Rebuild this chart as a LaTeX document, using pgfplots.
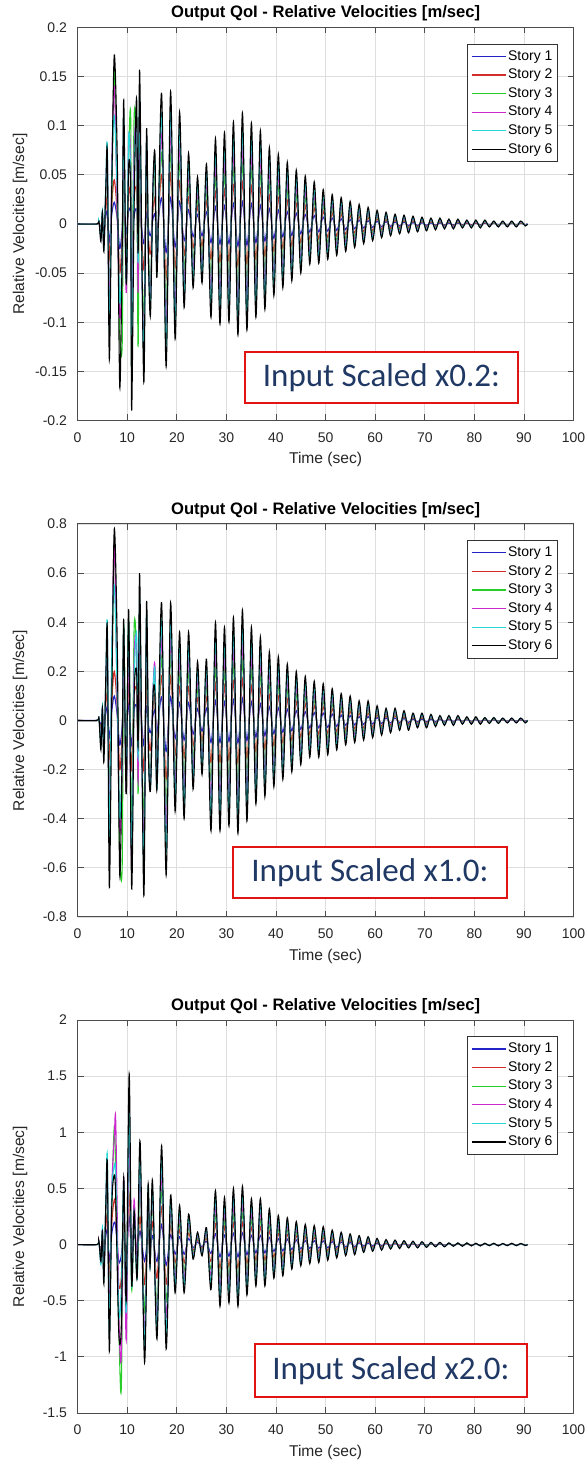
\documentclass[border=0pt]{standalone}
\usepackage{fontspec}
\setmainfont{Liberation Sans}
\newfontfamily\calibri{Carlito}
\usepackage{pgfplots}
\usepackage{pgfplotstable}
\pgfplotsset{compat=1.18}
\definecolor{sA}{RGB}{35,35,200}
\definecolor{sB}{RGB}{210,45,40}
\definecolor{sC}{RGB}{40,205,40}
\definecolor{sD}{RGB}{205,40,205}
\definecolor{sE}{RGB}{40,215,215}
\definecolor{sF}{RGB}{0,0,0}
\definecolor{boxred}{RGB}{225,20,20}
\definecolor{navy}{RGB}{32,56,100}

\pgfplotstableread{
t a b c d e f
0 0 0 0 0 0 0
3.9 0 0 0 0 0 0
4.3 0.001 0.002 0.002 0.003 0.003 0.003
4.7 -0.004 -0.006 -0.009 -0.012 -0.014 -0.018
5.0 0.003 0.005 0.010 0.012 0.014 0.012
5.3 -0.006 -0.012 -0.018 -0.022 -0.025 -0.028
5.7 0.008 0.015 0.030 0.035 0.042 0.040
6.0 0.012 0.025 0.045 0.060 0.078 0.071
6.4 -0.018 -0.035 -0.070 -0.090 -0.110 -0.138
6.9 0.010 0.020 0.030 0.060 0.050 0.040
7.4 0.022 0.045 0.160 0.140 0.110 0.172
8.0 0.005 0.010 0.020 0.010 0.030 0.066
8.5 -0.025 -0.050 -0.110 -0.095 -0.080 -0.166
9.0 -0.005 -0.010 -0.120 -0.040 -0.020 -0.020
9.3 0.020 0.045 0.090 0.100 0.110 0.126
9.8 -0.010 -0.030 -0.060 -0.070 -0.060 -0.060
10.3 0.015 0.035 0.070 0.085 0.090 0.060
10.7 0.010 0.020 0.110 0.060 0.040 0.030
10.9 -0.025 -0.050 -0.100 -0.120 -0.150 -0.190
11.4 0.008 0.025 0.110 0.075 0.050 0.020
11.9 0.015 0.035 0.070 0.090 0.110 0.128
12.2 -0.010 -0.030 -0.125 -0.070 -0.040 -0.030
12.5 0.018 0.040 0.080 0.110 0.130 0.157
13.0 -0.008 -0.020 -0.050 -0.060 -0.055 -0.050
13.4 -0.020 -0.045 -0.090 -0.110 -0.130 -0.158
13.9 0.012 0.030 0.060 0.075 0.085 0.096
14.3 -0.005 -0.015 -0.030 -0.040 -0.040 -0.040
14.7 -0.012 -0.030 -0.060 -0.070 -0.080 -0.092
15.2 0.005 0.015 0.030 0.040 0.035 0.040
15.6 0.010 0.025 0.050 0.060 0.065 0.071
16.0 -0.008 -0.020 -0.035 -0.045 -0.050 -0.054
16.94 0.0266 0.0505 0.0732 0.0931 0.113 0.133
17.85 -0.029 -0.0551 -0.0798 -0.1015 -0.1233 -0.145
18.75 0.027 0.0513 0.0743 0.0945 0.1148 0.135
19.66 -0.0234 -0.0445 -0.0644 -0.0819 -0.0995 -0.117
20.56 0.0228 0.0433 0.0627 0.0798 0.0969 0.114
21.47 -0.017 -0.0323 -0.0468 -0.0595 -0.0723 -0.085
22.37 0.0144 0.0274 0.0396 0.0504 0.0612 0.072
23.28 -0.013 -0.0247 -0.0358 -0.0455 -0.0553 -0.065
24.18 0.0096 0.0182 0.0264 0.0336 0.0408 0.048
25.09 -0.012 -0.0228 -0.033 -0.042 -0.051 -0.06
25.99 0.0122 0.0232 0.0336 0.0427 0.0519 0.061
26.90 -0.019 -0.0361 -0.0523 -0.0665 -0.0808 -0.095
27.80 0.0174 0.0331 0.0479 0.0609 0.074 0.087
28.71 -0.0204 -0.0388 -0.0561 -0.0714 -0.0867 -0.102
29.61 0.0186 0.0353 0.0512 0.0651 0.079 0.093
30.52 -0.02 -0.038 -0.055 -0.07 -0.085 -0.1
31.42 0.0208 0.0395 0.0572 0.0728 0.0884 0.104
32.33 -0.0226 -0.0429 -0.0622 -0.0791 -0.096 -0.113
33.23 0.0226 0.0429 0.0622 0.0791 0.096 0.113
34.14 -0.0216 -0.041 -0.0594 -0.0756 -0.0918 -0.108
35.04 0.0206 0.0391 0.0567 0.0721 0.0876 0.103
35.95 -0.019 -0.0361 -0.0523 -0.0665 -0.0808 -0.095
36.85 0.019 0.0361 0.0523 0.0665 0.0808 0.095
37.76 -0.0174 -0.0331 -0.0479 -0.0609 -0.074 -0.087
38.66 0.0156 0.0296 0.0429 0.0546 0.0663 0.078
39.57 -0.0146 -0.0277 -0.0402 -0.0511 -0.0621 -0.073
40.47 0.0142 0.027 0.039 0.0497 0.0604 0.071
41.38 -0.013 -0.0247 -0.0358 -0.0455 -0.0553 -0.065
42.28 0.0126 0.0239 0.0347 0.0441 0.0536 0.063
43.19 -0.0116 -0.022 -0.0319 -0.0406 -0.0493 -0.058
44.09 0.011 0.0209 0.0303 0.0385 0.0468 0.055
45.00 -0.01 -0.019 -0.0275 -0.035 -0.0425 -0.05
45.90 0.0098 0.0186 0.027 0.0343 0.0417 0.049
46.81 -0.0082 -0.0156 -0.0226 -0.0287 -0.0349 -0.041
47.71 0.0086 0.0163 0.0237 0.0301 0.0366 0.043
48.62 -0.008 -0.0152 -0.022 -0.028 -0.034 -0.04
49.52 0.007 0.0133 0.0193 0.0245 0.0298 0.035
50.43 -0.0072 -0.0137 -0.0198 -0.0252 -0.0306 -0.036
51.33 0.006 0.0114 0.0165 0.021 0.0255 0.03
52.24 -0.0064 -0.0122 -0.0176 -0.0224 -0.0272 -0.032
53.14 0.0054 0.0103 0.0149 0.0189 0.023 0.027
54.05 -0.0056 -0.0106 -0.0154 -0.0196 -0.0238 -0.028
54.95 0.0046 0.0087 0.0127 0.0161 0.0196 0.023
55.86 -0.0048 -0.0091 -0.0132 -0.0168 -0.0204 -0.024
56.76 0.004 0.0076 0.011 0.014 0.017 0.02
57.67 -0.004 -0.0076 -0.011 -0.014 -0.017 -0.02
58.57 0.0034 0.0065 0.0094 0.0119 0.0145 0.017
59.48 -0.0034 -0.0065 -0.0094 -0.0119 -0.0145 -0.017
60.38 0.0028 0.0053 0.0077 0.0098 0.0119 0.014
61.29 -0.0028 -0.0053 -0.0077 -0.0098 -0.0119 -0.014
62.19 0.0024 0.0046 0.0066 0.0084 0.0102 0.012
63.10 -0.0024 -0.0046 -0.0066 -0.0084 -0.0102 -0.012
64.00 0.002 0.0038 0.0055 0.007 0.0085 0.01
64.91 -0.002 -0.0038 -0.0055 -0.007 -0.0085 -0.01
65.81 0.0018 0.0034 0.005 0.0063 0.0077 0.009
66.72 -0.0018 -0.0034 -0.005 -0.0063 -0.0077 -0.009
67.62 0.0016 0.003 0.0044 0.0056 0.0068 0.008
68.53 -0.0016 -0.003 -0.0044 -0.0056 -0.0068 -0.008
69.43 0.0014 0.0027 0.0039 0.0049 0.006 0.007
70.34 -0.0014 -0.0027 -0.0039 -0.0049 -0.006 -0.007
71.24 0.0012 0.0023 0.0033 0.0042 0.0051 0.006
72.15 -0.0012 -0.0023 -0.0033 -0.0042 -0.0051 -0.006
73.05 0.0012 0.0023 0.0033 0.0042 0.0051 0.006
73.96 -0.001 -0.0019 -0.0028 -0.0035 -0.0043 -0.005
74.86 0.001 0.0019 0.0028 0.0035 0.0043 0.005
75.77 -0.001 -0.0019 -0.0028 -0.0035 -0.0043 -0.005
76.67 0.001 0.0019 0.0028 0.0035 0.0043 0.005
77.58 -0.0008 -0.0015 -0.0022 -0.0028 -0.0034 -0.004
78.48 0.0008 0.0015 0.0022 0.0028 0.0034 0.004
79.39 -0.0008 -0.0015 -0.0022 -0.0028 -0.0034 -0.004
80.29 0.0008 0.0015 0.0022 0.0028 0.0034 0.004
81.20 -0.0008 -0.0015 -0.0022 -0.0028 -0.0034 -0.004
82.10 0.0008 0.0015 0.0022 0.0028 0.0034 0.004
83.01 -0.0006 -0.0011 -0.0017 -0.0021 -0.0026 -0.003
83.91 0.0006 0.0011 0.0017 0.0021 0.0026 0.003
84.82 -0.0006 -0.0011 -0.0017 -0.0021 -0.0026 -0.003
85.72 0.0006 0.0011 0.0017 0.0021 0.0026 0.003
86.63 -0.0006 -0.0011 -0.0017 -0.0021 -0.0026 -0.003
87.53 0.0006 0.0011 0.0017 0.0021 0.0026 0.003
88.44 -0.0006 -0.0011 -0.0017 -0.0021 -0.0026 -0.003
89.34 0.0006 0.0011 0.0017 0.0021 0.0026 0.003
90.25 -0.0004 -0.0008 -0.0011 -0.0014 -0.0017 -0.002
90.7 0 0 0 0 0 0
}\tabA

\pgfplotstableread{
t a b c d e f
0 0 0 0 0 0 0
3.9 0 0 0 0 0 0
4.3 0.004 0.006 0.008 0.01 0.012 0.012
4.7 -0.02 -0.04 -0.06 -0.08 -0.1 -0.12
5.0 0.01 0.02 0.04 0.05 0.06 0.05
5.3 -0.03 -0.06 -0.09 -0.11 -0.13 -0.17
5.7 0.03 0.07 0.12 0.15 0.17 0.19
6.0 0.05 0.1 0.2 0.28 0.39 0.36
6.4 -0.07 -0.15 -0.3 -0.4 -0.5 -0.68
6.9 0.04 0.08 0.15 0.25 0.3 0.1
7.4 0.1 0.2 0.73 0.72 0.55 0.78
8.0 0.02 0.05 0.1 0.05 0.1 0.3
8.5 -0.1 -0.2 -0.55 -0.45 -0.4 -0.63
9.0 -0.02 -0.05 -0.58 -0.2 -0.1 -0.1
9.3 0.08 0.18 0.39 0.35 0.38 0.41
9.8 -0.04 -0.12 -0.3 -0.3 -0.25 -0.3
10.3 0.07 0.15 0.4 0.3 0.4 0.45
10.9 -0.1 -0.2 -0.45 -0.6 -0.55 -0.685
11.4 0.04 0.1 0.38 0.25 0.15 0.1
11.9 0.06 0.12 0.25 0.3 0.35 0.2
12.2 -0.05 -0.1 -0.3 -0.25 -0.15 -0.1
12.5 0.08 0.18 0.35 0.45 0.5 0.6
13.0 -0.03 -0.07 -0.15 -0.2 -0.2 -0.2
13.4 -0.1 -0.2 -0.4 -0.5 -0.6 -0.7
13.9 0.06 0.15 0.3 0.38 0.43 0.48
14.3 -0.02 -0.06 -0.12 -0.15 -0.15 -0.15
14.7 -0.05 -0.12 -0.22 -0.25 -0.27 -0.28
15.2 0.02 0.05 0.1 0.12 0.1 0.1
15.6 0.04 0.1 0.2 0.22 0.2 0.11
16.0 -0.05 -0.12 -0.22 -0.25 -0.28 -0.28
16.94 0.096 0.182 0.264 0.336 0.408 0.48
17.85 -0.126 -0.239 -0.347 -0.441 -0.536 -0.63
18.75 0.096 0.182 0.264 0.336 0.408 0.48
19.66 -0.074 -0.141 -0.204 -0.259 -0.315 -0.37
20.56 0.072 0.137 0.198 0.252 0.306 0.36
21.47 -0.08 -0.152 -0.22 -0.28 -0.34 -0.4
22.37 0.072 0.137 0.198 0.252 0.306 0.36
23.28 -0.056 -0.106 -0.154 -0.196 -0.238 -0.28
24.18 0.048 0.091 0.132 0.168 0.204 0.24
25.09 -0.044 -0.084 -0.121 -0.154 -0.187 -0.22
25.99 0.05 0.095 0.138 0.175 0.213 0.25
26.90 -0.09 -0.171 -0.248 -0.315 -0.383 -0.45
27.80 0.08 0.152 0.22 0.28 0.34 0.4
28.71 -0.09 -0.171 -0.248 -0.315 -0.383 -0.45
29.61 0.076 0.144 0.209 0.266 0.323 0.38
30.52 -0.086 -0.163 -0.237 -0.301 -0.366 -0.43
31.42 0.084 0.16 0.231 0.294 0.357 0.42
32.33 -0.092 -0.175 -0.253 -0.322 -0.391 -0.46
33.23 0.09 0.171 0.248 0.315 0.383 0.45
34.14 -0.082 -0.156 -0.226 -0.287 -0.349 -0.41
35.04 0.076 0.144 0.209 0.266 0.323 0.38
35.95 -0.068 -0.129 -0.187 -0.238 -0.289 -0.34
36.85 0.068 0.129 0.187 0.238 0.289 0.34
37.76 -0.062 -0.118 -0.171 -0.217 -0.264 -0.31
38.66 0.056 0.106 0.154 0.196 0.238 0.28
39.57 -0.054 -0.103 -0.149 -0.189 -0.23 -0.27
40.47 0.052 0.099 0.143 0.182 0.221 0.26
41.38 -0.048 -0.091 -0.132 -0.168 -0.204 -0.24
42.28 0.046 0.087 0.127 0.161 0.196 0.23
43.19 -0.042 -0.08 -0.116 -0.147 -0.179 -0.21
44.09 0.04 0.076 0.11 0.14 0.17 0.2
45.00 -0.036 -0.068 -0.099 -0.126 -0.153 -0.18
45.90 0.036 0.068 0.099 0.126 0.153 0.18
46.81 -0.03 -0.057 -0.083 -0.105 -0.128 -0.15
47.71 0.032 0.061 0.088 0.112 0.136 0.16
48.62 -0.03 -0.057 -0.083 -0.105 -0.128 -0.15
49.52 0.03 0.057 0.083 0.105 0.128 0.15
50.43 -0.028 -0.053 -0.077 -0.098 -0.119 -0.14
51.33 0.026 0.049 0.072 0.091 0.111 0.13
52.24 -0.024 -0.046 -0.066 -0.084 -0.102 -0.12
53.14 0.022 0.042 0.061 0.077 0.094 0.11
54.05 -0.02 -0.038 -0.055 -0.07 -0.085 -0.1
54.95 0.02 0.038 0.055 0.07 0.085 0.1
55.86 -0.018 -0.034 -0.05 -0.063 -0.077 -0.09
56.76 0.016 0.03 0.044 0.056 0.068 0.08
57.67 -0.016 -0.03 -0.044 -0.056 -0.068 -0.08
58.57 0.016 0.03 0.044 0.056 0.068 0.08
59.48 -0.014 -0.027 -0.039 -0.049 -0.06 -0.07
60.38 0.012 0.023 0.033 0.042 0.051 0.06
61.29 -0.012 -0.023 -0.033 -0.042 -0.051 -0.06
62.19 0.01 0.019 0.028 0.035 0.043 0.05
63.10 -0.01 -0.019 -0.028 -0.035 -0.043 -0.05
64.00 0.01 0.019 0.028 0.035 0.043 0.05
64.91 -0.008 -0.015 -0.022 -0.028 -0.034 -0.04
65.81 0.008 0.015 0.022 0.028 0.034 0.04
66.72 -0.008 -0.015 -0.022 -0.028 -0.034 -0.04
67.62 0.006 0.011 0.017 0.021 0.026 0.03
68.53 -0.006 -0.011 -0.017 -0.021 -0.026 -0.03
69.43 0.006 0.011 0.017 0.021 0.026 0.03
70.34 -0.006 -0.011 -0.017 -0.021 -0.026 -0.03
71.24 0.005 0.01 0.014 0.018 0.021 0.025
72.15 -0.005 -0.01 -0.014 -0.018 -0.021 -0.025
73.05 0.004 0.008 0.011 0.014 0.017 0.02
73.96 -0.004 -0.008 -0.011 -0.014 -0.017 -0.02
74.86 0.004 0.008 0.011 0.014 0.017 0.02
75.77 -0.004 -0.008 -0.011 -0.014 -0.017 -0.02
76.67 0.004 0.008 0.011 0.014 0.017 0.02
77.58 -0.003 -0.006 -0.008 -0.011 -0.013 -0.015
78.48 0.003 0.006 0.008 0.011 0.013 0.015
79.39 -0.003 -0.006 -0.008 -0.011 -0.013 -0.015
80.29 0.003 0.006 0.008 0.011 0.013 0.015
81.20 -0.003 -0.006 -0.008 -0.011 -0.013 -0.015
82.10 0.0024 0.0046 0.0066 0.0084 0.0102 0.012
83.01 -0.0024 -0.0046 -0.0066 -0.0084 -0.0102 -0.012
83.91 0.0024 0.0046 0.0066 0.0084 0.0102 0.012
84.82 -0.0024 -0.0046 -0.0066 -0.0084 -0.0102 -0.012
85.72 0.002 0.0038 0.0055 0.007 0.0085 0.01
86.63 -0.002 -0.0038 -0.0055 -0.007 -0.0085 -0.01
87.53 0.002 0.0038 0.0055 0.007 0.0085 0.01
88.44 -0.002 -0.0038 -0.0055 -0.007 -0.0085 -0.01
89.34 0.002 0.0038 0.0055 0.007 0.0085 0.01
90.25 -0.002 -0.0038 -0.0055 -0.007 -0.0085 -0.01
90.7 0 0 0 0 0 0
}\tabB

\pgfplotstableread{
t a b c d e f
0 0 0 0 0 0 0
3.9 0 0 0 0 0 0
4.3 0.01 0.02 0.02 0.03 0.03 0.03
4.7 -0.05 -0.08 -0.12 -0.15 -0.18 -0.15
5.0 0.03 0.06 0.1 0.13 0.15 0.12
5.3 -0.08 -0.15 -0.2 -0.25 -0.3 -0.35
5.7 0.08 0.15 0.3 0.35 0.4 0.38
6.0 0.12 0.25 0.45 0.55 0.78 0.71
6.4 -0.15 -0.3 -0.5 -0.65 -0.8 -0.95
6.9 0.1 0.2 0.4 0.5 0.45 0.35
7.4 0.2 0.4 1.05 0.95 0.7 0.62
7.7 0.15 0.3 0.6 1.08 0.6 0.4
8.3 -0.15 -0.35 -0.7 -0.6 -0.6 -0.78
8.8 -0.1 -0.3 -1.29 -1.0 -0.4 -0.74
9.3 0.1 0.3 0.5 0.6 0.55 0.6
9.8 -0.1 -0.2 -0.6 -0.85 -0.6 -0.5
10.4 0.25 0.45 0.9 1.0 1.2 1.52
10.9 -0.1 -0.25 -0.4 -0.3 -0.35 -0.35
11.4 0.1 0.2 0.3 0.4 0.3 0.3
12.0 -0.05 -0.15 -0.3 -0.2 -0.3 -0.3
12.6 0.12 0.25 0.5 0.6 0.75 0.92
13.5 -0.15 -0.35 -0.6 -0.8 -0.9 -1.05
14.2 0.1 0.2 0.35 0.45 0.5 0.53
14.6 -0.05 -0.1 -0.2 -0.2 -0.2 -0.2
15.1 0.08 0.2 0.4 0.45 0.5 0.57
16.0 -0.15 -0.3 -0.55 -0.65 -0.75 -0.84
16.94 0.176 0.334 0.484 0.616 0.748 0.88
17.85 -0.186 -0.353 -0.512 -0.651 -0.791 -0.93
18.75 0.088 0.167 0.242 0.308 0.374 0.44
19.66 -0.086 -0.163 -0.237 -0.301 -0.366 -0.43
20.56 0.07 0.133 0.193 0.245 0.298 0.35
21.47 -0.086 -0.163 -0.237 -0.301 -0.366 -0.43
22.37 0.054 0.103 0.149 0.189 0.23 0.27
23.28 -0.026 -0.049 -0.072 -0.091 -0.111 -0.13
24.18 0.022 0.042 0.061 0.077 0.094 0.11
25.09 -0.02 -0.038 -0.055 -0.07 -0.085 -0.1
25.99 0.03 0.057 0.083 0.105 0.128 0.15
26.90 -0.08 -0.152 -0.22 -0.28 -0.34 -0.4
27.80 0.096 0.182 0.264 0.336 0.408 0.48
28.71 -0.11 -0.209 -0.303 -0.385 -0.468 -0.55
29.61 0.084 0.16 0.231 0.294 0.357 0.42
30.52 -0.104 -0.198 -0.286 -0.364 -0.442 -0.52
31.42 0.1 0.19 0.275 0.35 0.425 0.5
32.33 -0.11 -0.209 -0.303 -0.385 -0.468 -0.55
33.23 0.104 0.198 0.286 0.364 0.442 0.52
34.14 -0.09 -0.171 -0.248 -0.315 -0.383 -0.45
35.04 0.082 0.156 0.226 0.287 0.349 0.41
35.95 -0.074 -0.141 -0.204 -0.259 -0.315 -0.37
36.85 0.082 0.156 0.226 0.287 0.349 0.41
37.76 -0.074 -0.141 -0.204 -0.259 -0.315 -0.37
38.66 0.064 0.122 0.176 0.224 0.272 0.32
39.57 -0.06 -0.114 -0.165 -0.21 -0.255 -0.3
40.47 0.052 0.099 0.143 0.182 0.221 0.26
41.38 -0.056 -0.106 -0.154 -0.196 -0.238 -0.28
42.28 0.048 0.091 0.132 0.168 0.204 0.24
43.19 -0.044 -0.084 -0.121 -0.154 -0.187 -0.22
44.09 0.041 0.078 0.113 0.144 0.174 0.205
45.00 -0.038 -0.072 -0.105 -0.133 -0.162 -0.19
45.90 0.036 0.068 0.099 0.126 0.153 0.18
46.81 -0.034 -0.065 -0.094 -0.119 -0.145 -0.17
47.71 0.034 0.065 0.094 0.119 0.145 0.17
48.62 -0.032 -0.061 -0.088 -0.112 -0.136 -0.16
49.52 0.032 0.061 0.088 0.112 0.136 0.16
50.43 -0.028 -0.053 -0.077 -0.098 -0.119 -0.14
51.33 0.026 0.049 0.072 0.091 0.111 0.13
52.24 -0.024 -0.046 -0.066 -0.084 -0.102 -0.12
53.14 0.022 0.042 0.061 0.077 0.094 0.11
54.05 -0.02 -0.038 -0.055 -0.07 -0.085 -0.1
54.95 0.019 0.036 0.052 0.067 0.081 0.095
55.86 -0.018 -0.034 -0.05 -0.063 -0.077 -0.09
56.76 0.016 0.03 0.044 0.056 0.068 0.08
57.67 -0.014 -0.027 -0.039 -0.049 -0.06 -0.07
58.57 0.014 0.027 0.039 0.049 0.06 0.07
59.48 -0.012 -0.023 -0.033 -0.042 -0.051 -0.06
60.38 0.011 0.021 0.03 0.039 0.047 0.055
61.29 -0.01 -0.019 -0.028 -0.035 -0.043 -0.05
62.19 0.009 0.017 0.025 0.032 0.038 0.045
63.10 -0.008 -0.015 -0.022 -0.028 -0.034 -0.04
64.00 0.008 0.015 0.022 0.028 0.034 0.04
64.91 -0.007 -0.013 -0.019 -0.025 -0.03 -0.035
65.81 0.007 0.013 0.019 0.025 0.03 0.035
66.72 -0.006 -0.011 -0.017 -0.021 -0.026 -0.03
67.62 0.006 0.011 0.017 0.021 0.026 0.03
68.53 -0.006 -0.011 -0.017 -0.021 -0.026 -0.03
69.43 0.005 0.01 0.014 0.018 0.021 0.025
70.34 -0.005 -0.01 -0.014 -0.018 -0.021 -0.025
71.24 0.004 0.008 0.011 0.014 0.017 0.02
72.15 -0.004 -0.008 -0.011 -0.014 -0.017 -0.02
73.05 0.004 0.008 0.011 0.014 0.017 0.02
73.96 -0.004 -0.008 -0.011 -0.014 -0.017 -0.02
74.86 0.003 0.006 0.008 0.011 0.013 0.015
75.77 -0.003 -0.006 -0.008 -0.011 -0.013 -0.015
76.67 0.003 0.006 0.008 0.011 0.013 0.015
77.58 -0.003 -0.006 -0.008 -0.011 -0.013 -0.015
78.48 0.003 0.006 0.008 0.011 0.013 0.015
79.39 -0.0024 -0.0046 -0.0066 -0.0084 -0.0102 -0.012
80.29 0.0024 0.0046 0.0066 0.0084 0.0102 0.012
81.20 -0.0024 -0.0046 -0.0066 -0.0084 -0.0102 -0.012
82.10 0.0024 0.0046 0.0066 0.0084 0.0102 0.012
83.01 -0.002 -0.0038 -0.0055 -0.007 -0.0085 -0.01
83.91 0.0024 0.0046 0.0066 0.0084 0.0102 0.012
84.82 -0.0024 -0.0046 -0.0066 -0.0084 -0.0102 -0.012
85.72 0.002 0.0038 0.0055 0.007 0.0085 0.01
86.63 -0.002 -0.0038 -0.0055 -0.007 -0.0085 -0.01
87.53 0.0024 0.0046 0.0066 0.0084 0.0102 0.012
88.44 -0.002 -0.0038 -0.0055 -0.007 -0.0085 -0.01
89.34 0.002 0.0038 0.0055 0.007 0.0085 0.01
90.25 -0.0016 -0.003 -0.0044 -0.0056 -0.0068 -0.008
90.7 0 0 0 0 0 0
}\tabC

\pgfplotsset{
  velax/.style={
    scale only axis, width=248pt, height=196.5pt,
    xmin=0, xmax=100,
    xtick={0,10,20,30,40,50,60,70,80,90,100},
    xticklabels={0,10,20,30,40,50,60,70,80,90,100},
    grid=major,
    grid style={draw=black!13, line width=0.4pt},
    axis line style={draw=black!70, line width=0.5pt},
    tick align=inside, major tick length=3pt,
    tick style={draw=black!70, line width=0.5pt},
    tick label style={font=\fontsize{7}{8}\selectfont, text=black!85},
    xticklabel style={anchor=center, yshift=-8.5pt},
    yticklabel style={xshift=-1.8pt},
    title={Output QoI - Relative Velocities [m/sec]},
    every axis title/.style={at={(axis description cs:0.5,1)}, anchor=center, yshift=7pt, font=\bfseries\fontsize{8.3}{9.5}\selectfont},
    xlabel={Time (sec)},
    ylabel={Relative Velocities [m/sec]},
    every axis x label/.style={at={(axis description cs:0.5,0)}, anchor=center, yshift=-19.5pt, font=\fontsize{7.8}{9}\selectfont, text=black!85},
    every axis y label/.style={at={(axis description cs:-0.116,0.5)}, anchor=center, rotate=90, font=\fontsize{7.8}{9}\selectfont, text=black!85},
    legend style={at={(axis description cs:0.9685,0.959)}, anchor=north east, draw=black!80, line width=0.5pt, fill=white,
      font=\fontsize{7}{8}\selectfont, inner xsep=1.5pt, inner ysep=1.5pt, row sep=0pt,
      nodes={inner ysep=1.3pt, inner xsep=1pt, text height=5.2pt, text depth=1.5pt}},
    legend cell align=left,
    legend image code/.code={\draw[##1, line width=0.6pt] (0pt,0pt) -- (17pt,0pt);},
  }
}

\newcommand\plotsix[1]{%
  \addplot[sA, line width=0.55pt, mark=none, smooth] table[x=t,y=a]{#1};
  \addplot[sB, line width=0.55pt, mark=none, smooth] table[x=t,y=b]{#1};
  \addplot[sC, line width=0.55pt, mark=none, smooth] table[x=t,y=c]{#1};
  \addplot[sD, line width=0.55pt, mark=none, smooth] table[x=t,y=d]{#1};
  \addplot[sE, line width=0.55pt, mark=none, smooth] table[x=t,y=e]{#1};
  \addplot[sF, line width=0.55pt, mark=none, smooth] table[x=t,y=f]{#1};
  \legend{Story 1,Story 2,Story 3,Story 4,Story 5,Story 6}%
}

\begin{document}
\begin{tikzpicture}
\useasboundingbox (0,0) rectangle (294pt,732pt);

\begin{axis}[velax, at={(38.8pt,521.75pt)}, anchor=south west,
  ymin=-0.2, ymax=0.2,
  ytick={-0.2,-0.15,-0.1,-0.05,0,0.05,0.1,0.15,0.2},
  yticklabels={-0.2,-0.15,-0.1,-0.05,0,0.05,0.1,0.15,0.2}]
\plotsix{\tabA}
\end{axis}

\begin{axis}[velax, at={(38.8pt,273.5pt)}, anchor=south west,
  ymin=-0.8, ymax=0.8,
  ytick={-0.8,-0.6,-0.4,-0.2,0,0.2,0.4,0.6,0.8},
  yticklabels={-0.8,-0.6,-0.4,-0.2,0,0.2,0.4,0.6,0.8}]
\plotsix{\tabB}
\end{axis}

\begin{axis}[velax, at={(38.8pt,25.5pt)}, anchor=south west,
  ymin=-1.5, ymax=2,
  ytick={-1.5,-1,-0.5,0,0.5,1,1.5,2},
  yticklabels={-1.5,-1,-0.5,0,0.5,1,1.5,2}]
\plotsix{\tabC}
\end{axis}

\node[draw=boxred, line width=1.2pt, fill=white, minimum width=136.5pt, minimum height=25.5pt, inner sep=0pt,
  font=\calibri\fontsize{16.5}{18}\selectfont, text=navy] at (190.75pt,543.25pt) {Input Scaled x0.2:};
\node[draw=boxred, line width=1.2pt, fill=white, minimum width=137pt, minimum height=25.5pt, inner sep=0pt,
  font=\calibri\fontsize{16.5}{18}\selectfont, text=navy] at (185pt,295.75pt) {Input Scaled x1.0:};
\node[draw=boxred, line width=1.2pt, fill=white, minimum width=136pt, minimum height=26.5pt, inner sep=0pt,
  font=\calibri\fontsize{16.5}{18}\selectfont, text=navy] at (195.5pt,46.75pt) {Input Scaled x2.0:};
\end{tikzpicture}
\end{document}
